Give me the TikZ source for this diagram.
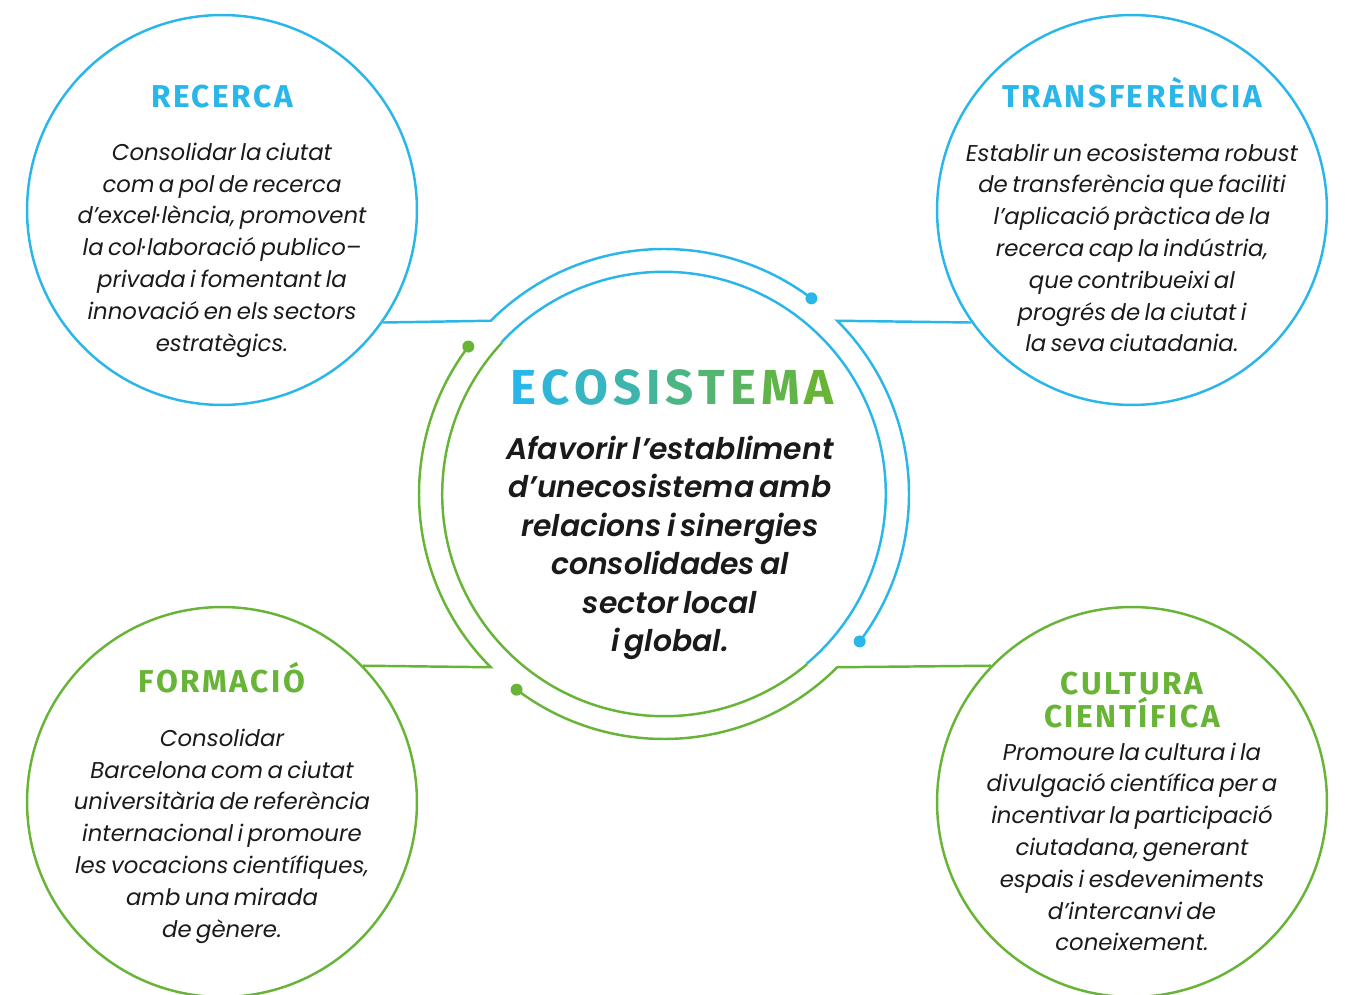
\documentclass[tikz,border=0pt]{standalone}
\usepackage{fontspec}
\setmainfont{Poppins}[WordSpace=0.65]
\newfontfamily\headfont{Fira Sans}[LetterSpace=8]
\newfontfamily\ecofont{Poppins}[WordSpace=0.65, BoldFont=* SemiBold, BoldItalicFont=* SemiBold Italic]
\usepackage{tikz}

\definecolor{ecoblue}{HTML}{29B6E8}
\definecolor{ecogreen}{HTML}{67B436}
\definecolor{ecotext}{HTML}{1A1A1A}

\tikzset{
  topic/.style={circle, draw=#1, line width=1.4pt, minimum size=7.8cm, inner sep=0pt},
  topictitle/.style={font=\headfont\bfseries\fontsize{18}{19.3}\selectfont, text=#1, align=center},
  topictext/.style={font=\itshape\fontsize{13}{18.1}\selectfont, text=ecotext, align=center},
  ring/.style={line width=1.4pt, draw=#1},
}

\newcommand\ecoletter[2]{{\color{ecoblue!#1!ecogreen}#2}}
\newcommand\ecoword{%
\ecoletter{100}{E}\kern0.1em\ecoletter{89}{C}\kern0.1em\ecoletter{78}{O}\kern0.1em%
\ecoletter{67}{S}\kern0.1em\ecoletter{56}{I}\kern0.1em\ecoletter{44}{S}\kern0.1em%
\ecoletter{33}{T}\kern0.1em\ecoletter{22}{E}\kern0.1em\ecoletter{11}{M}\kern0.1em%
\ecoletter{0}{A}}

\begin{document}
\begin{tikzpicture}[x=0.02cm, y=0.02cm]
\useasboundingbox (0,0) rectangle (1345,994);

% the four topics
\node[topic=ecoblue] (rec) at (222,784) {};
\node[topic=ecoblue] (tra) at (1132,784) {};
\node[topic=ecogreen] (for) at (222,192) {};
\node[topic=ecogreen] (cul) at (1132,192) {};

% centre
\node[circle, minimum size=8.88cm, inner sep=0pt] (eco) at (664,500) {};
\draw[ring=ecoblue] (eco.137) arc (137:-50:222);
\draw[ring=ecogreen] (eco.-50) arc (-50:-223:222);

% outer ring with connectors
\foreach \ang/\col/\topicname/\port in {135/ecoblue/rec/-35, 45/ecoblue/tra/215, -45/ecogreen/cul/136, 225/ecogreen/for/44}{
  \draw[ring=\col] (\topicname.\port) -- ([shift={(\ang:245)}]eco.center)
    arc[start angle=\ang, delta angle=-82, radius=245];
  \fill[\col] ([shift={(\ang-82:245)}]eco.center) circle (6);
}

% texts
\node[topictitle=ecoblue, anchor=base] (rectitle) at (222,886) {RECERCA};
\node[topictext] (rectext) at (222,744) {Consolidar la ciutat\\
com a pol de recerca\\
d’excel·lència, promovent\\
la col·laboració publico–\\
privada i fomentant la\\
innovació en els sectors\\
estratègics.};

\node[topictitle=ecoblue, anchor=base] (tratitle) at (1132,886) {TRANSFERÈNCIA};
\node[topictext] (tratext) at (1132,746) {Establir un ecosistema robust\\
de transferència que faciliti\\
l’aplicació pràctica de la\\
recerca cap la indústria,\\
que contribueixi al\\
progrés de la ciutat i\\
la seva ciutadania.};

\node[topictitle=ecogreen, anchor=base] (fortitle) at (222,301) {FORMACIÓ};
\node[topictext] (fortext) at (222,158) {Consolidar\\
Barcelona com a ciutat\\
universitària de referència\\
internacional i promoure\\
les vocacions científiques,\\
amb una mirada\\
de gènere.};

\node[topictitle=ecogreen] (cultitle) at (1132,294) {CULTURA\\CIENTÍFICA};
\node[topictext] (cultext) at (1132,147) {Promoure la cultura i la\\
divulgació científica per a\\
incentivar la participació\\
ciutadana,  generant\\
espais i esdeveniments\\
d’intercanvi  de\\
coneixement.};

\node[font=\headfont\bfseries\fontsize{28}{30}\selectfont] (ecotitle) at (672,607) {\ecoword};
\node[font=\ecofont\bfseries\itshape\fontsize{17}{21.9}\selectfont, text=ecotext, align=center] (ecotext) at (670,446) {Afavorir l’establiment\\
d’unecosistema amb\\
relacions i sinergies\\
consolidades al\\
sector local\\
i global.};
\end{tikzpicture}
\end{document}
